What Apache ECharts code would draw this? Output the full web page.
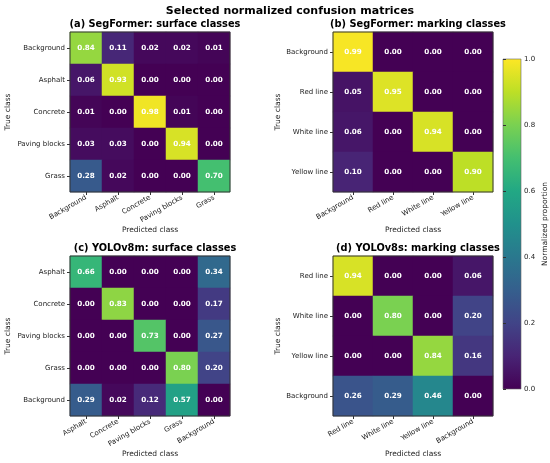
<!DOCTYPE html>
<html lang="en">
<head>
    <meta charset="UTF-8">
    <title>Selected normalized confusion matrices</title>
    <script src="https://cdn.jsdelivr.net/npm/echarts@6/dist/echarts.min.js"></script>
    <style>
        html, body { margin: 0; padding: 0; background: #fff; }
    </style>
</head>
<body>
<div id="main" style="width:550px;height:463px;"></div>
<script>
    // class lists
    var surfaceSeg = ['Background', 'Asphalt', 'Concrete', 'Paving blocks', 'Grass'];
    var markingSeg = ['Background', 'Red line', 'White line', 'Yellow line'];
    var surfaceYolo = ['Asphalt', 'Concrete', 'Paving blocks', 'Grass', 'Background'];
    var markingYolo = ['Red line', 'White line', 'Yellow line', 'Background'];

    // rows = true class, cols = predicted class
    var matA = [
        [0.84, 0.11, 0.02, 0.02, 0.01],
        [0.06, 0.93, 0.00, 0.00, 0.00],
        [0.01, 0.00, 0.98, 0.01, 0.00],
        [0.03, 0.03, 0.00, 0.94, 0.00],
        [0.28, 0.02, 0.00, 0.00, 0.70]
    ];
    var matB = [
        [0.99, 0.00, 0.00, 0.00],
        [0.05, 0.95, 0.00, 0.00],
        [0.06, 0.00, 0.94, 0.00],
        [0.10, 0.00, 0.00, 0.90]
    ];
    var matC = [
        [0.66, 0.00, 0.00, 0.00, 0.34],
        [0.00, 0.83, 0.00, 0.00, 0.17],
        [0.00, 0.00, 0.73, 0.00, 0.27],
        [0.00, 0.00, 0.00, 0.80, 0.20],
        [0.29, 0.02, 0.12, 0.57, 0.00]
    ];
    var matD = [
        [0.94, 0.00, 0.00, 0.06],
        [0.00, 0.80, 0.00, 0.20],
        [0.00, 0.00, 0.84, 0.16],
        [0.26, 0.29, 0.46, 0.00]
    ];

    var panelTitles = [
        '(a) SegFormer: surface classes',
        '(b) SegFormer: marking classes',
        '(c) YOLOv8m: surface classes',
        '(d) YOLOv8s: marking classes'
    ];
    var cbarTicks = [0, 0.2, 0.4, 0.6, 0.8, 1.0];

    var viridis = ['#440154', '#482475', '#414487', '#355f8d', '#2a788e', '#21918c',
                   '#22a884', '#44bf70', '#7ad151', '#bddf26', '#fde725'];

    var font = 'DejaVu Sans';

    function cells(mat) {
        var out = [];
        for (var i = 0; i < mat.length; i++) {
            for (var j = 0; j < mat[i].length; j++) {
                out.push([j, i, mat[i][j]]);
            }
        }
        return out;
    }

    var panels = [
        { cats: surfaceSeg, mat: matA, left: 70, top: 32, yGap: 58 },
        { cats: markingSeg, mat: matB, left: 333, top: 32, yGap: 50 },
        { cats: surfaceYolo, mat: matC, left: 70, top: 256, yGap: 58 },
        { cats: markingYolo, mat: matD, left: 333, top: 256, yGap: 50 }
    ];

    var grids = [], xAxes = [], yAxes = [], series = [], titles = [];

    titles.push({
        text: 'Selected normalized confusion matrices',
        left: 285, top: 1, textAlign: 'center',
        textStyle: { fontFamily: font, fontSize: 11, fontWeight: 'bold', color: '#000' }
    });

    panels.forEach(function (p, k) {
        grids.push({
            left: p.left, top: p.top, width: 160, height: 160,
            show: true, borderColor: '#333', borderWidth: 1, backgroundColor: 'transparent', z: 5
        });
        titles.push({
            text: panelTitles[k],
            left: p.left + 80, top: p.top - 18, textAlign: 'center',
            textStyle: { fontFamily: font, fontSize: 9.8, fontWeight: 'bold', color: '#000' }
        });
        xAxes.push({
            type: 'category', gridIndex: k, data: p.cats,
            name: 'Predicted class', nameLocation: 'middle', nameGap: 34,
            nameTextStyle: { fontFamily: font, fontSize: 7.5, color: '#222' },
            axisLine: { show: false },
            axisTick: { show: true, alignWithLabel: true, length: 3, lineStyle: { color: '#333' } },
            axisLabel: { rotate: 30, fontFamily: font, fontSize: 7, color: '#222', margin: 5, interval: 0 },
            splitLine: { show: false }
        });
        yAxes.push({
            type: 'category', gridIndex: k, data: p.cats, inverse: true,
            name: 'True class', nameLocation: 'middle', nameGap: p.yGap, nameRotate: 90,
            nameTextStyle: { fontFamily: font, fontSize: 7.5, color: '#222' },
            axisLine: { show: false },
            axisTick: { show: true, alignWithLabel: true, length: 3, lineStyle: { color: '#333' } },
            axisLabel: { fontFamily: font, fontSize: 7, color: '#222', margin: 5, interval: 0 },
            splitLine: { show: false }
        });
        series.push({
            type: 'heatmap', xAxisIndex: k, yAxisIndex: k,
            data: cells(p.mat),
            itemStyle: { borderWidth: 0 },
            label: {
                show: true, color: '#fff', fontFamily: font, fontSize: 7.2, fontWeight: 'bold',
                formatter: function (d) { return d.value[2].toFixed(2); }
            },
            emphasis: { disabled: true }
        });
    });

    // colorbar axis
    grids.push({ left: 503, top: 59, width: 18, height: 330, show: false });
    xAxes.push({ type: 'value', gridIndex: 4, show: false });
    yAxes.push({
        type: 'value', gridIndex: 4, min: 0, max: 1, interval: 0.2, position: 'right',
        name: 'Normalized proportion', nameLocation: 'middle', nameGap: 21, nameRotate: 90,
        nameTextStyle: { fontFamily: font, fontSize: 7.5, color: '#222' },
        axisLine: { show: false },
        axisTick: { show: true, length: 3, lineStyle: { color: '#333' } },
        axisLabel: {
            fontFamily: font, fontSize: 7, color: '#222', margin: 4,
            formatter: function (v) { return cbarTicks.indexOf(Math.round(v * 10) / 10) >= 0 ? v.toFixed(1) : ''; }
        },
        splitLine: { show: false }
    });

    var stops = viridis.map(function (c, i) {
        return { offset: 1 - i / (viridis.length - 1), color: c };
    });

    var option = {
        backgroundColor: '#fff',
        animation: false,
        title: titles,
        grid: grids,
        xAxis: xAxes,
        yAxis: yAxes,
        visualMap: {
            type: 'continuous', min: 0, max: 1, show: false,
            seriesIndex: [0, 1, 2, 3],
            inRange: { color: viridis }
        },
        graphic: [{
            type: 'rect',
            shape: { x: 503, y: 59, width: 18, height: 330 },
            style: {
                fill: { type: 'linear', x: 0, y: 0, x2: 0, y2: 1, colorStops: stops },
                stroke: '#666', lineWidth: 0.6
            },
            z: 0
        }],
        series: series
    };

    var chart = echarts.init(document.getElementById('main'));
    chart.setOption(option);
</script>
</body>
</html>
